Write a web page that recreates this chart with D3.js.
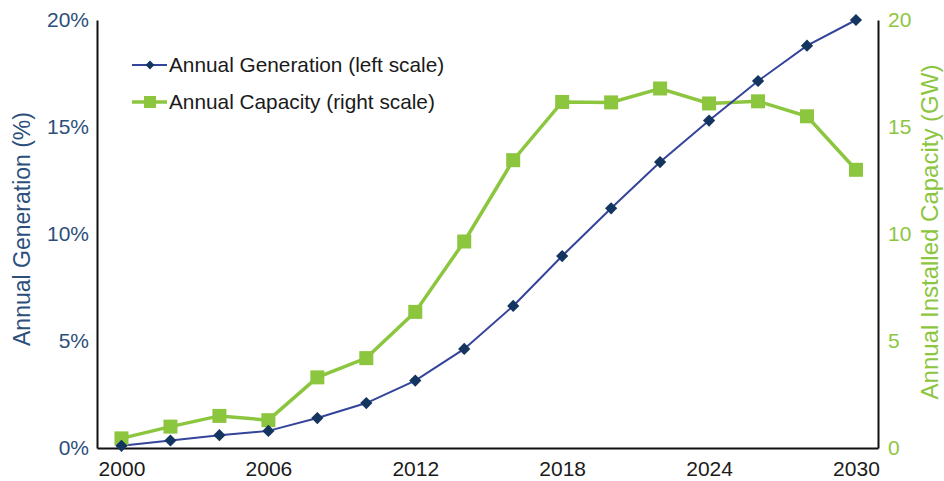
<!DOCTYPE html>
<html><head><meta charset="utf-8">
<script src="https://cdn.jsdelivr.net/npm/d3@7"></script>
<style>body{margin:0;background:#fff}svg{display:block}text{font-family:"Liberation Sans",Arial,sans-serif}</style>
</head><body><svg id="c" width="944" height="481"></svg>
<script>
const years = [2000,2002,2004,2006,2008,2010,2012,2014,2016,2018,2020,2022,2024,2026,2028,2030];
const generation = [0.1,0.35,0.6,0.8,1.4,2.1,3.15,4.63,6.64,8.97,11.2,13.36,15.3,17.15,18.8,20.0];
const capacity = [0.45,1.0,1.5,1.3,3.3,4.2,6.36,9.65,13.45,16.17,16.15,16.8,16.1,16.2,15.5,13.0];
const xTicks = [2000,2006,2012,2018,2024,2030];
const leftTicks = [0,5,10,15,20];
const rightTicks = [0,5,10,15,20];
const seriesNames = ["Annual Generation (left scale)","Annual Capacity (right scale)"];

const blue="#34449a", navy="#14355f", green="#8cc63f", leftText="#2c4f7c";
const svg=d3.select("#c");
const L=97,R=878,T=20,B=448;
const x=d3.scaleLinear().domain([1999,2030.9]).range([L,R]);
const yL=d3.scaleLinear().domain([0,20]).range([B,T]);
const yR=d3.scaleLinear().domain([0,20]).range([B,T]);

// axes
const gx=svg.append("g").attr("transform",`translate(0,${B})`)
 .call(d3.axisBottom(x).tickValues(xTicks).tickSize(0).tickPadding(13).tickFormat(d3.format("d")));
gx.select(".domain").attr("stroke","#111").attr("stroke-width",2);
gx.selectAll("text").attr("font-size",21).attr("fill","#1a1a1a");
const gl=svg.append("g").attr("transform",`translate(${L},0)`)
 .call(d3.axisLeft(yL).tickValues(leftTicks).tickSize(0).tickPadding(8).tickFormat(d=>d+"%"));
gl.select(".domain").attr("stroke","#111").attr("stroke-width",2);
gl.selectAll("text").attr("font-size",21).attr("fill",leftText);
const gr=svg.append("g").attr("transform",`translate(${R},0)`)
 .call(d3.axisRight(yR).tickValues(rightTicks).tickSize(0).tickPadding(10).tickFormat(d3.format("d")));
gr.select(".domain").attr("stroke","#111").attr("stroke-width",2);
gr.selectAll("text").attr("font-size",21).attr("fill",green);

// titles
svg.append("text").attr("transform",`translate(30,229) rotate(-90)`).attr("text-anchor","middle")
 .attr("font-size",23).attr("fill",leftText).text("Annual Generation (%)");
svg.append("text").attr("transform",`translate(938,232) rotate(-90)`).attr("text-anchor","middle")
 .attr("font-size",24).attr("fill",green).text("Annual Installed Capacity (GW)");

// lines
const lg=d3.line().x((d,i)=>x(years[i])).y(d=>yL(d));
const lc=d3.line().x((d,i)=>x(years[i])).y(d=>yR(d));
svg.append("path").attr("d",lc(capacity)).attr("fill","none").attr("stroke",green).attr("stroke-width",3.5);
svg.append("path").attr("d",lg(generation)).attr("fill","none").attr("stroke",blue).attr("stroke-width",2);
svg.append("g").selectAll("rect").data(capacity).join("rect")
 .attr("x",(d,i)=>x(years[i])-7).attr("y",d=>yR(d)-7).attr("width",14).attr("height",14).attr("fill",green);
const diamond=d3.symbol().type(d3.symbolDiamond2).size(95);
svg.append("g").selectAll("path").data(generation).join("path")
 .attr("d",diamond).attr("transform",(d,i)=>`translate(${x(years[i])},${yL(d)})`).attr("fill",navy);

// legend
const leg=svg.append("g");
[[blue,navy,"d",65],[green,green,"s",102]].forEach((s,i)=>{
  const yy=s[3];
  leg.append("line").attr("x1",132).attr("x2",167).attr("y1",yy).attr("y2",yy).attr("stroke",s[0]).attr("stroke-width",i?3.5:2);
  if(s[2]==="d") leg.append("path").attr("d",d3.symbol().type(d3.symbolDiamond2).size(50)).attr("transform",`translate(150,${yy})`).attr("fill",s[1]);
  else leg.append("rect").attr("x",144).attr("y",yy-6).attr("width",12).attr("height",12).attr("fill",s[1]);
  leg.append("text").attr("x",169).attr("y",yy+7).attr("font-size",20.8).attr("fill","#1a1a1a").text(seriesNames[i]);
});
</script></body></html>
